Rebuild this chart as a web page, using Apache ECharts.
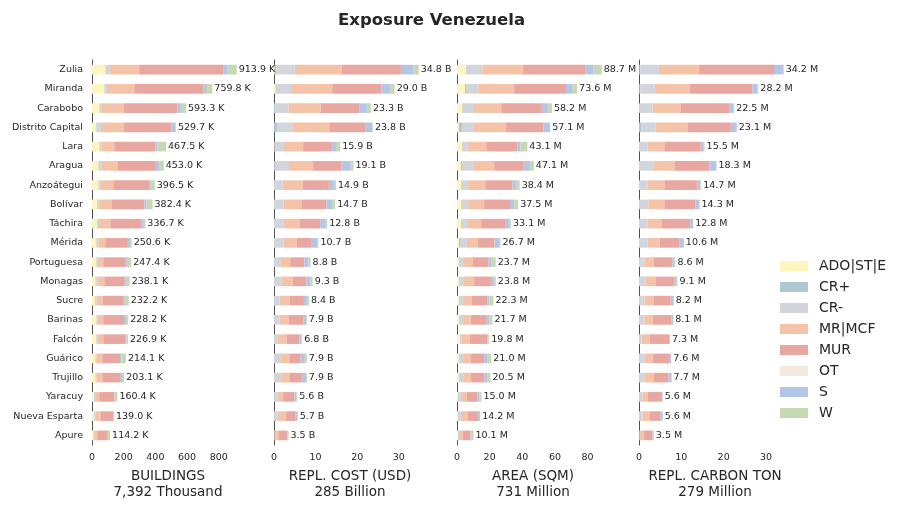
<!DOCTYPE html>
<html>
<head>
<meta charset="utf-8">
<script src="https://cdn.jsdelivr.net/npm/echarts@6/dist/echarts.min.js"></script>
<style>
  html, body { margin: 0; padding: 0; background: #fff; }
  #chart { width: 901px; height: 510px; }
</style>
</head>
<body>
<div id="chart"></div>
<script>
const states = ['Zulia', 'Miranda', 'Carabobo', 'Distrito Capital', 'Lara', 'Aragua', 'Anzoátegui',
  'Bolívar', 'Táchira', 'Mérida', 'Portuguesa', 'Monagas', 'Sucre', 'Barinas', 'Falcón',
  'Guárico', 'Trujillo', 'Yaracuy', 'Nueva Esparta', 'Apure']
const groups = ['ADO|ST|E', 'CR+', 'CR-', 'MR|MCF', 'MUR', 'OT', 'S', 'W']
const groupColors = ['#fff5bf', '#adc8d0', '#d2d5dc', '#f5c4a8', '#e8a7a1', '#f3e9df', '#b3c6e6', '#c5d9b2']

// buildings (thousand)
const bldADO = [84, 78, 46, 27, 46, 40, 40, 32, 32, 27, 27, 21, 21, 27, 27, 21, 21, 13, 13, 8]
const bldCRp = [0, 0, 0, 3, 0, 0, 0, 0, 4, 0, 0, 0, 6, 0, 0, 0, 0, 0, 0, 0]
const bldCRm = [25, 17, 17, 27, 13, 19, 13, 13, 8, 13, 6, 13, 3, 6, 6, 6, 6, 6, 8, 6]
const bldMR = [189, 172, 135, 143, 82, 101, 82, 78, 72, 44, 38, 44, 38, 38, 38, 38, 38, 27, 32, 19]
const bldMUR = [529.9, 435.8, 342.3, 302.7, 258.5, 243.0, 225.5, 208.4, 192.7, 142.6, 138.4, 128.1, 133.2, 131.2, 141.9, 112.1, 112.1, 95.4, 82.0, 62.2]
const bldOT = [0, 0, 0, 0, 0, 0, 0, 0, 0, 0, 0, 0, 0, 0, 0, 0, 0, 0, 0, 0]
const bldS = [25, 17, 21, 25, 13, 21, 11, 13, 13, 13, 11, 13, 6, 13, 6, 8, 13, 2, 4, 6]
const bldW = [61, 40, 32, 2, 55, 29, 25, 38, 15, 11, 27, 19, 25, 13, 8, 29, 13, 17, 0, 13]

// replacement cost (billion USD)
const costADO = [0.2, 0.3, 0, 0, 0.1, 0.1, 0, 0, 0, 0, 0, 0, 0, 0, 0, 0, 0, 0, 0, 0]
const costCRp = [0.4, 0, 0.3, 0.8, 0, 0, 0, 0, 0, 0, 0, 0, 0, 0, 0, 0, 0, 0, 0, 0]
const costCRm = [4.4, 3.8, 3.2, 3.6, 2.1, 3.5, 2.1, 2.3, 2.3, 2.3, 1.5, 1.8, 1.3, 1.3, 0.8, 1.5, 1.5, 0.8, 1.0, 0.1]
const costMR = [11.3, 9.9, 7.7, 8.9, 4.8, 5.8, 4.8, 4.3, 3.9, 3.1, 2.4, 2.7, 2.4, 2.2, 2.2, 2.2, 2.2, 1.4, 1.9, 1.1]
const costMUR = [14.2, 11.8, 9.4, 8.6, 6.7, 6.8, 6.3, 6.0, 4.9, 3.7, 3.4, 3.3, 3.5, 3.5, 3.1, 2.7, 3.0, 2.7, 2.3, 1.9]
const costOT = [0, 0, 0, 0, 0, 0, 0, 0, 0, 0, 0, 0, 0, 0, 0, 0, 0, 0, 0, 0]
const costS = [2.9, 2.2, 1.7, 1.7, 1.2, 2.2, 1.2, 1.4, 1.2, 1.4, 1.0, 1.0, 0.7, 0.7, 0.5, 1.0, 1.0, 0.5, 0.5, 0.2]
const costW = [1.4, 1.0, 1.0, 0.2, 1.0, 0.7, 0.5, 0.7, 0.5, 0.2, 0.5, 0.5, 0.5, 0.2, 0.2, 0.5, 0.2, 0.2, 0, 0.2]

// area (million sqm)
const areaADO = [5.5, 4.9, 3.1, 1.2, 3.1, 2.5, 2.5, 2.5, 2.5, 1.2, 1.2, 1.2, 1.2, 1.2, 1.8, 1.2, 1.2, 0.6, 0.6, 0.6]
const areaCRp = [0.4, 0.6, 0, 1.8, 0, 0.6, 0, 0, 0, 0.6, 0, 0, 0, 0, 0, 0, 0, 0, 0, 0]
const areaCRm = [9.6, 7.6, 6.8, 7.4, 3.7, 6.8, 4.3, 4.3, 3.7, 4.3, 3.1, 3.1, 2.5, 2.5, 1.2, 2.5, 3.1, 1.8, 1.8, 0.6]
const areaMR = [25.0, 21.9, 17.2, 19.7, 11.1, 12.9, 10.5, 9.8, 8.6, 6.8, 5.5, 6.2, 5.5, 4.9, 4.9, 4.9, 4.3, 3.7, 4.3, 2.5]
const areaMUR = [38.4, 31.8, 24.9, 22.9, 19.1, 18.1, 16.8, 15.9, 14.6, 10.1, 9.6, 10.3, 9.4, 9.5, 10.7, 8.1, 8.3, 6.5, 6.3, 4.6]
const areaOT = [0, 0, 0, 0, 0, 0, 0, 0, 0, 0, 0, 0, 0, 0, 0, 0, 0, 0, 0, 0]
const areaS = [4.9, 3.7, 3.7, 4.1, 1.8, 3.7, 2.5, 2.5, 2.5, 3.1, 1.8, 1.8, 1.2, 1.8, 0.6, 1.8, 1.8, 1.2, 1.2, 0.6]
const areaW = [4.9, 3.1, 2.5, 0, 4.3, 2.5, 1.8, 2.5, 1.2, 0.6, 2.5, 1.2, 2.5, 1.8, 0.6, 2.5, 1.8, 1.2, 0, 1.2]

// replacement carbon (million ton)
const carbADO = [0.1, 0.1, 0, 0, 0, 0, 0, 0, 0, 0, 0, 0, 0, 0, 0, 0, 0, 0, 0, 0]
const carbCRp = [0.2, 0.2, 0, 0.6, 0, 0, 0, 0, 0, 0, 0, 0, 0, 0, 0, 0, 0, 0, 0, 0]
const carbCRm = [4.4, 3.4, 3.2, 3.3, 2.0, 3.4, 2.0, 2.2, 2.0, 2.0, 1.3, 1.5, 1.3, 1.3, 0.6, 1.3, 1.3, 0.8, 0.8, 0.1]
const carbMR = [9.5, 8.3, 6.7, 7.6, 4.0, 5.0, 4.0, 3.8, 3.3, 2.9, 2.1, 2.4, 2.1, 1.9, 1.9, 1.9, 2.1, 1.2, 1.7, 1.1]
const carbMUR = [17.7, 14.8, 11.4, 10.2, 8.6, 8.2, 7.8, 7.3, 6.8, 4.7, 4.5, 4.5, 4.1, 4.4, 4.6, 3.9, 3.6, 3.4, 2.6, 2.0]
const carbOT = [0, 0, 0, 0, 0, 0, 0, 0, 0, 0, 0, 0, 0, 0, 0, 0, 0, 0, 0, 0]
const carbS = [2.1, 1.2, 1.0, 1.4, 0.7, 1.7, 0.7, 1.0, 0.7, 1.0, 0.5, 0.5, 0.7, 0.5, 0.2, 0.5, 0.7, 0.2, 0.5, 0.2]
const carbW = [0.2, 0.2, 0.2, 0, 0.2, 0, 0.2, 0, 0, 0, 0.2, 0.2, 0, 0, 0, 0, 0, 0, 0, 0.1]

const panelNames = ['BUILDINGS\n7,392 Thousand', 'REPL. COST (USD)\n285 Billion', 'AREA (SQM)\n731 Million', 'REPL. CARBON TON\n279 Million']
const panelUnits = ['K', 'B', 'M', 'M']
const panelTicks = [[0, 200, 400, 600, 800], [0, 10, 20, 30], [0, 20, 40, 60, 80], [0, 10, 20, 30]]

const panels = [
  [bldADO, bldCRp, bldCRm, bldMR, bldMUR, bldOT, bldS, bldW],
  [costADO, costCRp, costCRm, costMR, costMUR, costOT, costS, costW],
  [areaADO, areaCRp, areaCRm, areaMR, areaMUR, areaOT, areaS, areaW],
  [carbADO, carbCRp, carbCRm, carbMR, carbMUR, carbOT, carbS, carbW]
]

const gridLefts = [92, 274, 457, 639]
const font = 'DejaVu Sans'
const ink = '#262626'

const grids = []
const xAxes = []
const yAxes = []
const series = []

panels.forEach((cols, p) => {
  const totals = states.map((s, i) => cols.reduce((acc, c) => acc + c[i], 0))
  const maxTotal = Math.max(...totals)

  grids.push({ left: gridLefts[p], width: 152, top: 60, height: 385 })

  xAxes.push({
    gridIndex: p,
    type: 'value',
    min: 0,
    max: maxTotal * 1.05,
    name: panelNames[p],
    nameLocation: 'middle',
    nameGap: 24,
    nameTextStyle: { fontFamily: font, fontSize: 13.5, color: ink, lineHeight: 15.5 },
    axisLine: { lineStyle: { color: ink, width: 0.8 } },
    axisTick: { length: 3.5, lineStyle: { color: ink, width: 0.8 }, customValues: panelTicks[p] },
    axisLabel: { fontFamily: font, fontSize: 9.5, color: ink, margin: 8, customValues: panelTicks[p] },
    splitLine: { show: false }
  })

  yAxes.push({
    gridIndex: p,
    type: 'category',
    data: states,
    inverse: true,
    axisLine: { lineStyle: { color: ink, width: 0.8 } },
    axisTick: { alignWithLabel: true, length: 3.5, lineStyle: { color: ink, width: 0.8 } },
    axisLabel: { show: p === 0, fontFamily: font, fontSize: 9.5, color: ink, margin: 9 }
  })

  groups.forEach((g, k) => {
    series.push({
      name: g,
      type: 'bar',
      stack: 'p' + p,
      xAxisIndex: p,
      yAxisIndex: p,
      barWidth: '50%',
      data: cols[k],
      itemStyle: { color: groupColors[k] },
      emphasis: { disabled: true }
    })
  })

  // zero-width bar carrying the total label at the end of each stack
  series.push({
    name: 'total' + p,
    type: 'bar',
    stack: 'p' + p,
    xAxisIndex: p,
    yAxisIndex: p,
    barWidth: '50%',
    data: states.map(() => 0),
    itemStyle: { color: 'transparent' },
    label: {
      show: true,
      position: 'right',
      distance: 2,
      fontFamily: font,
      fontSize: 9.5,
      color: ink,
      formatter: (d) => totals[d.dataIndex].toFixed(1) + ' ' + panelUnits[p]
    }
  })
})

const chart = echarts.init(document.getElementById('chart'))
chart.setOption({
  animation: false,
  backgroundColor: '#fff',
  title: {
    text: 'Exposure Venezuela',
    left: 333,
    top: 7,
    textStyle: { fontFamily: font, fontSize: 16.5, fontWeight: 'bold', color: ink }
  },
  legend: {
    data: groups,
    orient: 'vertical',
    left: 775,
    top: 254,
    icon: 'rect',
    itemWidth: 28,
    itemHeight: 10,
    itemGap: 7,
    textStyle: { fontFamily: font, fontSize: 14, color: ink, padding: [0, 0, 0, 6] }
  },
  grid: grids,
  xAxis: xAxes,
  yAxis: yAxes,
  series: series
})
</script>
</body>
</html>
